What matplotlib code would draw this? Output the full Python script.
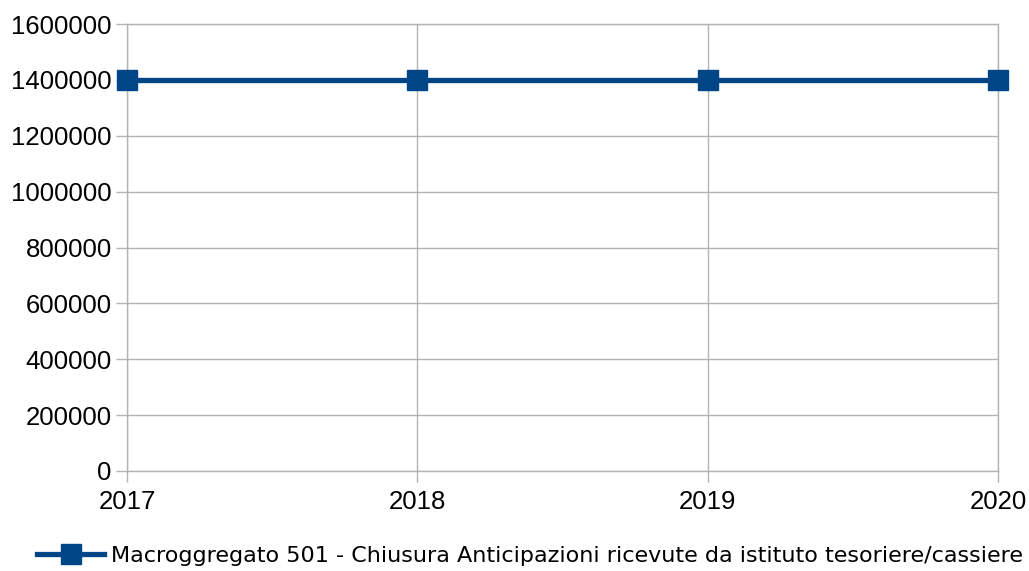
import matplotlib
matplotlib.use("Agg")
import matplotlib.pyplot as plt

years = ["2017", "2018", "2019", "2020"]
values = [1400000, 1400000, 1400000, 1400000]
series_name = "Macroggregato 501 - Chiusura Anticipazioni ricevute da istituto tesoriere/cassiere"
yticks = [0, 200000, 400000, 600000, 800000, 1000000, 1200000, 1400000, 1600000]

fig = plt.figure(figsize=(10.29, 5.71), dpi=100)
ax = fig.add_axes([127/1029, 1-471/571, (998-127)/1029, (471-24)/571])
x = list(range(len(years)))
line, = ax.plot(x, values, color="#004586", linewidth=3.8, marker="s", markersize=14,
                clip_on=False, zorder=5)
ax.set_xlim(0, len(years)-1)
ax.set_ylim(0, 1600000)
ax.set_yticks(yticks)
ax.set_yticklabels([str(v) for v in yticks], family="Liberation Sans", fontsize=18.5)
ax.set_xticks(x)
ax.set_xticklabels(years, family="Liberation Sans", fontsize=18.5)
ax.grid(True, color="#b3b3b3", linewidth=1)
for s in ax.spines.values():
    s.set_color("#b3b3b3")
    s.set_linewidth(1)
ax.tick_params(axis="both", color="#b3b3b3", length=8, width=1)
ax.tick_params(axis="y", pad=3)
ax.tick_params(axis="x", pad=6)
ax.set_axisbelow(True)

fig.legend([line], [series_name], loc="center", bbox_to_anchor=(0.515, 1-556/571),
           frameon=False, prop={"family": "DejaVu Sans", "size": 16}, handlelength=3.0,
           handletextpad=0.3)
fig.savefig("out.png", dpi=100)
